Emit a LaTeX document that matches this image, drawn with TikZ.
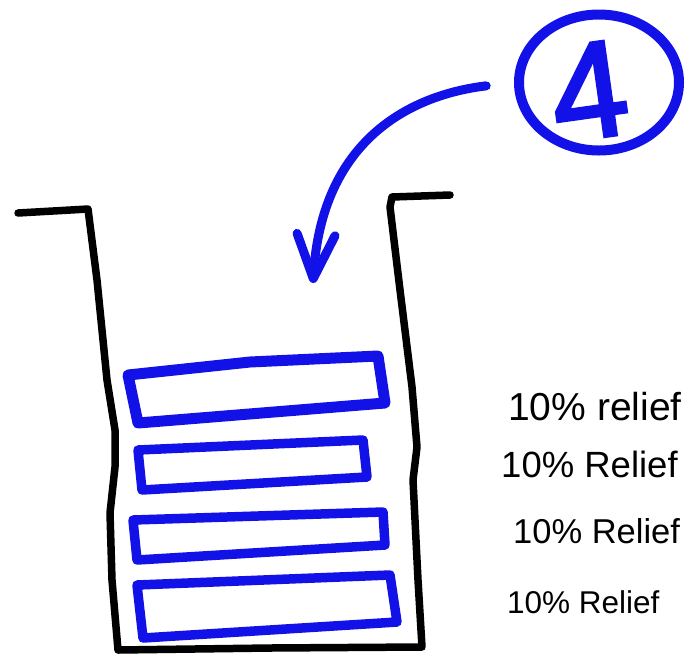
\documentclass[tikz,border=0pt]{standalone}
\usepackage{fontspec}
\setmainfont{Liberation Sans}
\newfontfamily\fourfont{Liberation Sans}[FakeBold=2.5]
\usetikzlibrary{shapes.geometric,arrows.meta}
\definecolor{handblue}{RGB}{18,18,232}
\tikzset{
  wall/.style={draw=black, line width=7.5pt, line cap=round, line join=round},
  slab/.style={draw=handblue, line width=9.5pt, line cap=round, line join=round},
  ringstyle/.style={ellipse, draw=handblue, line width=10pt, inner sep=0pt,
    minimum width=160pt, minimum height=136pt},
  bigdigit/.style={text=handblue, inner sep=0pt, font=\fourfont\fontsize{137pt}{140pt}\selectfont},
  pointer/.style={draw=handblue, line width=9pt, line cap=round,
    -{Straight Barb[length=44pt,width=38pt,round]}},
  relief/.style={anchor=base west, inner sep=0pt, text=black}
}
\begin{document}
\begin{tikzpicture}[x=1pt,y=-1pt]
\useasboundingbox (0,0) rectangle (693,657);
% hole outline
\draw[wall] (18,213) -- (88,209) -- (97,280) -- (107,380) -- (115,430) -- (115,467)
  -- (110,513) -- (112,580) -- (118,650) -- (270,648) -- (422,647)
  -- (418,580) -- (413,480) -- (417,447) -- (412,387) -- (400,290)
  -- (390,207) -- (392,197) -- (450,195);
% slabs
\draw[slab, line width=11pt] (128,375) -- (250,362) -- (378,356) -- (385,403) -- (138,423) -- cycle;
\draw[slab] (138,450) -- (363,440) -- (367,477) -- (142,490) -- cycle;
\draw[slab] (133,520) -- (383,512) -- (385,545) -- (137,560) -- cycle;
\draw[slab] (137,585) -- (390,575) -- (397,622) -- (143,638) -- cycle;
% circled number
\node[ringstyle] (ring) at (599,82.5) {};
\node[bigdigit, rotate=8] (four) at (589,91) {4};
\coordinate (tip) at (313,283);
\draw[pointer, shorten <=28pt] (ring.west) .. controls (410,95) and (322,140) .. (tip);
% labels
\node[relief, font=\fontsize{39pt}{44pt}\selectfont] (r1) at (508,420) {10\% relief};
\node[relief, font=\fontsize{36.5pt}{42pt}\selectfont] (r2) at (501,477) {10\% Relief};
\node[relief, font=\fontsize{34.5pt}{40pt}\selectfont] (r3) at (513,543) {10\% Relief};
\node[relief, font=\fontsize{31.5pt}{36pt}\selectfont] (r4) at (507,613) {10\% Relief};
\end{tikzpicture}
\end{document}
